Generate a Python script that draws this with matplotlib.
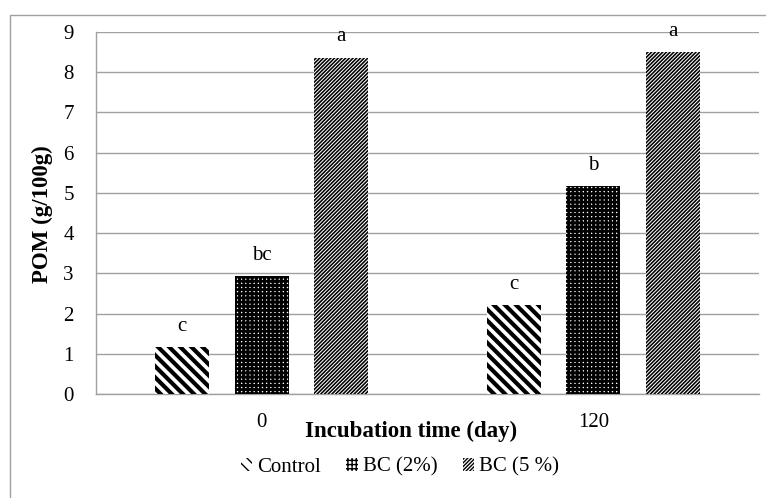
import matplotlib
matplotlib.use("Agg")
import matplotlib.pyplot as plt
import numpy as np
from matplotlib.patches import Rectangle, Patch

categories = ["0", "120"]
series_names = ["Control", "BC (2%)", "BC (5 %)"]
control = [1.17, 2.21]
bc2 = [2.93, 5.17]
bc5 = [8.36, 8.50]
letters = [["c", "c"], ["bc", "b"], ["a", "a"]]
yticks = list(range(0, 10))

hatches = ["\\\\\\", "++++", "/////////"]
hatch_lw = [3.0, 2.0, 1.15]

plt.rcParams['font.family'] = ['Liberation Serif', 'DejaVu Serif']

fig = plt.figure(figsize=(7.66, 4.98), dpi=100)
W, H = 766, 498
ax = fig.add_axes([96 / W, 1 - 394 / H, (759 - 96) / W, (394 - 32) / H])

# outer border of chart area
fig.patches.append(Rectangle((10 / W, -0.1), 1.2, 1 - 15 / H + 0.1,
                             transform=fig.transFigure, fill=False,
                             edgecolor='#a0a0a0', linewidth=1.0))

x = np.arange(len(categories))
width = 0.163
offsets = [-0.24, 0.0, 0.24]
data = [control, bc2, bc5]
for i, (vals, h, lw) in enumerate(zip(data, hatches, hatch_lw)):
    with plt.rc_context({'hatch.linewidth': lw}):
        bars = ax.bar(x + offsets[i], vals, width, color='white',
                      edgecolor='black', linewidth=0, hatch=h, zorder=3,
                      label=series_names[i])
        for b in bars:
            if hasattr(b, 'set_hatch_linewidth'):
                b.set_hatch_linewidth(lw)
    for xi, v, t in zip(x + offsets[i], vals, letters[i]):
        ax.annotate(t, (xi, v), xytext=(0, 15), textcoords='offset points',
                    ha='center', va='center', fontsize=15)

ax.set_xlim(-0.5, 1.5)
ax.set_ylim(0, 9)
ax.set_yticks(yticks)
ax.set_xticks(x)
ax.set_xticklabels(categories)
ax.tick_params(axis='both', labelsize=15, length=0)
ax.tick_params(axis='y', pad=16)
ax.tick_params(axis='x', pad=14)
ax.yaxis.grid(True, color='#a0a0a0', linewidth=1.0, zorder=0)
for s in ['top', 'right']:
    ax.spines[s].set_visible(False)
for s in ['left', 'bottom']:
    ax.spines[s].set_color('#a0a0a0')
    ax.spines[s].set_linewidth(1.0)
fig.text(42 / W, 1 - 214 / H, "POM (g/100g)", rotation=90, ha='center',
         va='center', fontsize=16.5, fontweight='bold')
fig.text(411 / W, 1 - 431 / H, "Incubation time (day)", ha='center',
         va='center', fontsize=16.5, fontweight='bold')

handles = []
for h, lw, n in zip(hatches, hatch_lw, series_names):
    with plt.rc_context({'hatch.linewidth': lw}):
        p = Patch(facecolor='white', edgecolor='black', linewidth=0, hatch=h, label=n)
        if hasattr(p, 'set_hatch_linewidth'):
            p.set_hatch_linewidth(lw)
    handles.append(p)
fig.legend(handles=handles, loc='center', bbox_to_anchor=(400 / W, 1 - 467 / H),
           ncol=3, frameon=False, fontsize=15, handlelength=0.55,
           handleheight=0.55, handletextpad=0.25, columnspacing=1.2)

fig.savefig("out.png", dpi=100)
